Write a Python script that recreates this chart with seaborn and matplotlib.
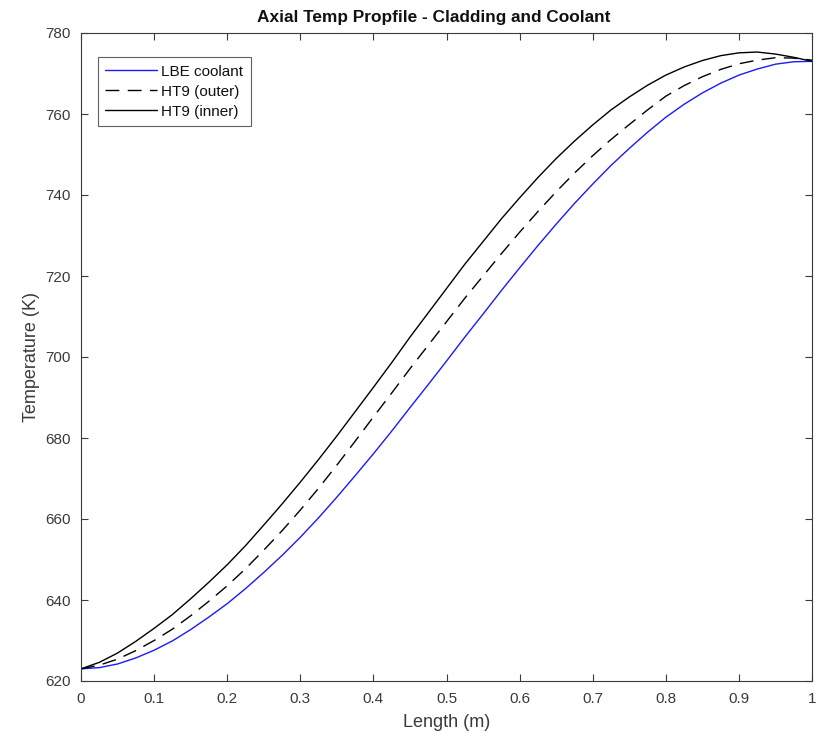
import matplotlib
matplotlib.use("Agg")
import matplotlib.pyplot as plt
import seaborn as sns
import pandas as pd

# Axial positions along the fuel pin (m)
length_m = [0.000, 0.025, 0.050, 0.075, 0.100, 0.125, 0.150, 0.175, 0.200, 0.225,
            0.250, 0.275, 0.300, 0.325, 0.350, 0.375, 0.400, 0.425, 0.450, 0.475,
            0.500, 0.525, 0.550, 0.575, 0.600, 0.625, 0.650, 0.675, 0.700, 0.725,
            0.750, 0.775, 0.800, 0.825, 0.850, 0.875, 0.900, 0.925, 0.950, 0.975, 1.000]

# Temperatures (K)
lbe_coolant = [623.0, 623.3, 624.2, 625.7, 627.6, 629.9, 632.7, 635.8, 639.1, 642.8,
               646.8, 651.0, 655.5, 660.3, 665.4, 670.7, 676.1, 681.7, 687.5, 693.2,
               699.0, 704.9, 710.6, 716.4, 722.0, 727.5, 732.8, 737.9, 742.7, 747.3,
               751.5, 755.5, 759.2, 762.4, 765.2, 767.6, 769.6, 771.1, 772.3, 772.9, 773.0]
ht9_outer = [623.0, 623.9, 625.4, 627.5, 630.0, 632.8, 636.1, 639.7, 643.5, 647.7,
             652.3, 657.1, 662.2, 667.6, 673.3, 679.2, 685.2, 691.1, 697.1, 702.9,
             708.7, 714.5, 720.0, 725.5, 730.8, 735.9, 740.8, 745.4, 749.7, 753.7,
             757.4, 761.0, 764.4, 767.0, 769.2, 771.0, 772.4, 773.3, 773.9, 773.8, 773.3]
ht9_inner = [623.0, 624.6, 626.9, 629.8, 633.0, 636.4, 640.3, 644.4, 648.7, 653.4,
             658.5, 663.7, 669.1, 674.7, 680.5, 686.5, 692.5, 698.6, 704.9, 710.9,
             716.9, 722.9, 728.5, 734.1, 739.3, 744.3, 749.0, 753.3, 757.3, 761.0,
             764.2, 767.1, 769.6, 771.6, 773.2, 774.4, 775.1, 775.3, 774.8, 774.0, 773.0]

series_names = ["LBE coolant", "HT9 (outer)", "HT9 (inner)"]
x_ticks = [0, 0.1, 0.2, 0.3, 0.4, 0.5, 0.6, 0.7, 0.8, 0.9, 1]
x_tick_labels = ["0", "0.1", "0.2", "0.3", "0.4", "0.5", "0.6", "0.7", "0.8", "0.9", "1"]
y_ticks = [620, 640, 660, 680, 700, 720, 740, 760, 780]

sns.set_style("ticks")
plt.rcParams["font.family"] = ["Liberation Sans", "DejaVu Sans"]
plt.rcParams["xtick.direction"] = "in"
plt.rcParams["ytick.direction"] = "in"

df = pd.DataFrame({
    "Length (m)": length_m * 3,
    "Temperature (K)": lbe_coolant + ht9_outer + ht9_inner,
    "Series": [series_names[0]] * len(length_m)
              + [series_names[1]] * len(length_m)
              + [series_names[2]] * len(length_m),
})

fig = plt.figure(figsize=(8.24, 7.39), dpi=100)
ax = fig.add_axes([81 / 824, 1 - 681 / 739, (812 - 81) / 824, (681 - 33) / 739])

palette = {"LBE coolant": "#1a1aff", "HT9 (outer)": "#000000", "HT9 (inner)": "#000000"}
dashes = {"LBE coolant": "", "HT9 (outer)": (10, 6), "HT9 (inner)": ""}
sns.lineplot(data=df, x="Length (m)", y="Temperature (K)", hue="Series", style="Series",
             palette=palette, dashes=dashes, linewidth=1.0, ax=ax,
             hue_order=series_names, style_order=series_names)

ax.set_xlim(0, 1)
ax.set_ylim(620, 780)
ax.set_xticks(x_ticks)
ax.set_xticklabels(x_tick_labels)
ax.set_yticks(y_ticks)

text_col = "#3a3a3a"
ax.tick_params(axis="x", which="both", direction="in", top=True, bottom=True,
               length=5, width=0.8, colors="#3a3a3a", labelsize=11, labelcolor=text_col, pad=8)
ax.tick_params(axis="y", which="both", direction="in", left=True, right=True,
               length=5, width=0.8, colors="#3a3a3a", labelsize=11, labelcolor=text_col, pad=7.5)
for side in ["top", "bottom", "left", "right"]:
    ax.spines[side].set_visible(True)
    ax.spines[side].set_color("#3a3a3a")
    ax.spines[side].set_linewidth(0.8)

ax.set_xlabel("Length (m)", fontsize=13, color=text_col, labelpad=6)
ax.set_ylabel("Temperature (K)", fontsize=13, color=text_col, labelpad=4)
ax.set_title("Axial Temp Propfile - Cladding and Coolant", fontsize=12.4,
             fontweight="bold", color="#111111", pad=8, x=0.483)

leg = ax.legend(loc="upper left", bbox_to_anchor=(0.023, 0.963), fontsize=11,
                frameon=True, fancybox=False, handlelength=3.35, handletextpad=0.3,
                borderpad=0.5, labelspacing=0.4, borderaxespad=0.0)
leg.get_frame().set_edgecolor("#3a3a3a")
leg.get_frame().set_linewidth(0.8)
for t in leg.get_texts():
    t.set_color("#111111")

fig.savefig("out.png", dpi=100, facecolor="white")
